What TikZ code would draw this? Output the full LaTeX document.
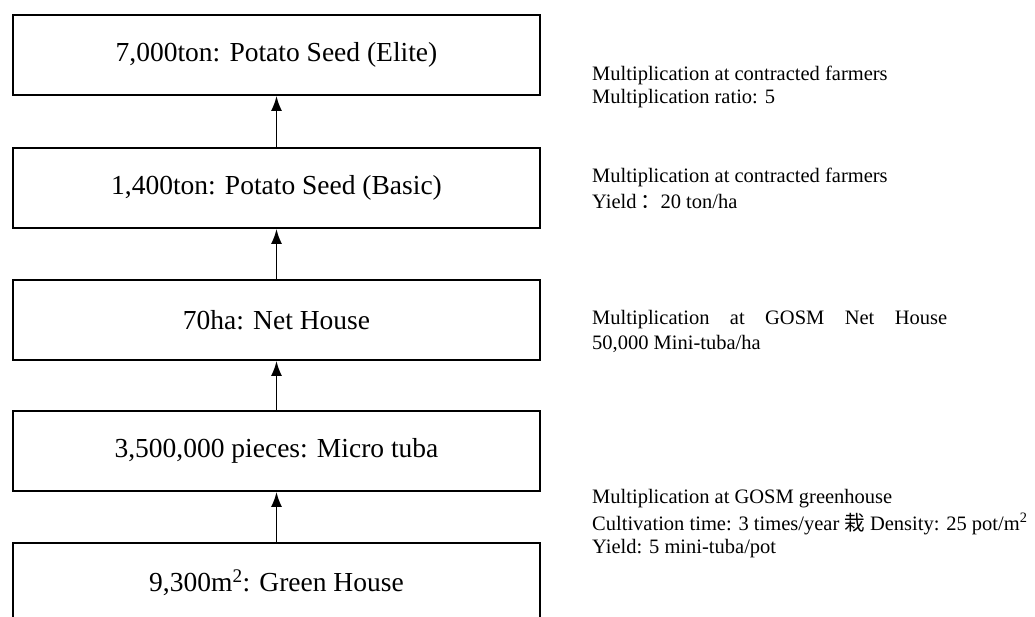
\documentclass[tikz,border=0pt]{standalone}
\usepackage{fontspec}
\setmainfont{Liberation Serif}
\newfontfamily\cjk{Noto Sans CJK SC}
\usetikzlibrary{arrows.meta}
\begin{document}
\begin{tikzpicture}[x=1pt,y=-1pt,
  stage/.style={draw, line width=1.8pt, minimum width=527pt, minimum height=80pt,
    inner sep=0pt, font=\fontsize{27.5}{30}\selectfont},
  note/.style={anchor=west, inner sep=0pt, font=\fontsize{20.5}{22}\selectfont},
  arr/.style={line width=1.8pt, -{Latex[length=15pt,width=11pt]}}]
\useasboundingbox (0,0) rectangle (1035,616);
\node[stage] (b1) at (276.5,55) {7,000ton: Potato Seed (Elite)};
\node[stage] (b2) at (276.5,188) {1,400ton: Potato Seed (Basic)};
\node[stage] (b3) at (276.5,320) {70ha: Net House};
\node[stage] (b4) at (276.5,451) {3,500,000 pieces: Micro tuba};
\node[stage] (b5) at (276.5,583) {9,300m\textsuperscript{2}: Green House};
\draw[arr] (b2.north) -- (b1.south);
\draw[arr] (b3.north) -- (b2.south);
\draw[arr] (b4.north) -- (b3.south);
\draw[arr] (b5.north) -- (b4.south);
\node[note] (n1a) at (592,75) {Multiplication at contracted farmers};
\node[note] (n1b) at (592,99) {Multiplication ratio: 5};
\node[note] (n2a) at (592,177) {Multiplication at contracted farmers};
\node[note] (n2b) at (592,201) {Yield\,{\cjk ：}20 ton/ha};
\node[note] (n3a) at (592,320) {\makebox[355pt][s]{Multiplication at GOSM Net House}};
\node[note] (n3b) at (592,344) {50,000 Mini-tuba/ha};
\node[note] (n4a) at (592,499) {Multiplication at GOSM greenhouse};
\node[note] (n4b) at (592,524) {Cultivation time: 3 times/year {\cjk 栽} Density: 25 pot/m\textsuperscript{2}};
\node[note] (n4c) at (592,549) {Yield: 5 mini-tuba/pot};
\end{tikzpicture}
\end{document}
